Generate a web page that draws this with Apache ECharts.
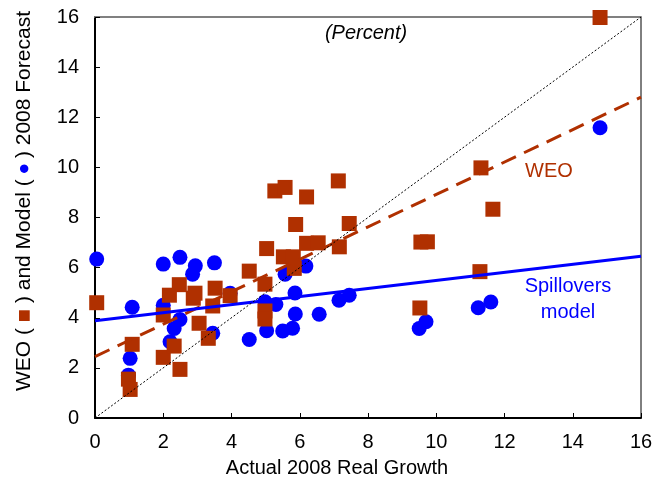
<!DOCTYPE html>
<html>
<head>
<meta charset="utf-8">
<script src="https://cdn.jsdelivr.net/npm/echarts@6/dist/echarts.min.js"></script>
<style>
html,body{margin:0;padding:0;background:#fff;}
#chart{width:661px;height:482px;}
</style>
</head>
<body>
<div id="chart"></div>
<script>
// ---- data ----
var weoActual   = [0.05,1.09,2.00,0.98,1.03,2.49,2.32,2.00,2.18,2.47,2.88,2.93,3.05,3.32,3.45,3.52,3.96,4.52,4.98,5.03,5.27,5.57,6.20,7.13,5.88,7.45,5.52,5.81,5.84,6.20,6.54,7.16,4.98,4.98,11.31,11.66,9.55,9.74,11.28,9.52,14.80];
var weoForecast = [4.60,2.94,2.42,1.55,1.14,1.94,2.87,4.11,4.90,5.32,4.78,4.98,3.78,3.18,4.47,5.18,4.88,5.86,5.34,6.76,9.06,9.20,8.82,9.46,7.72,7.76,6.43,6.43,5.97,6.97,6.99,6.83,4.27,3.95,9.98,8.33,7.02,7.03,5.84,4.39,15.98];
var modelActual   = [0.05,1.09,1.03,0.98,2.00,2.49,2.94,2.86,3.50,2.00,2.49,2.32,2.20,3.45,3.96,4.52,5.03,5.50,5.79,5.87,6.57,5.30,4.98,5.86,7.15,7.45,5.57,6.18,9.70,9.50,11.23,11.60,14.80];
var modelForecast = [6.34,4.42,2.38,1.71,6.14,6.41,6.07,5.74,6.19,4.50,3.93,3.57,3.04,3.38,4.98,3.13,3.48,3.47,3.58,4.15,4.14,4.53,4.64,4.99,4.70,4.90,5.74,6.06,3.84,3.57,4.40,4.63,11.58];
var weoFitX = [0, 16];
var weoFitY = [2.45, 12.8];
var modelFitX = [0, 16];
var modelFitY = [3.88, 6.45];
var diagX = [0, 16];
var diagY = [0, 16];
var axisTicks = [0, 2, 4, 6, 8, 10, 12, 14, 16];

function zip(a, b) { return a.map(function (v, i) { return [v, b[i]]; }); }

var BROWN = '#B03000';
var BLUE = '#0000FF';
var FONT = '"Liberation Sans", Arial, sans-serif';

var chart = echarts.init(document.getElementById('chart'), null, {renderer: 'canvas'});
var option = {
  backgroundColor: '#fff',
  animation: false,
  textStyle: {fontFamily: FONT},
  grid: {left: 95, right: 20, top: 17, bottom: 64, show: true, borderColor: '#000', borderWidth: 1},
  xAxis: [{
    type: 'value', min: axisTicks[0], max: axisTicks[axisTicks.length - 1], interval: 2,
    axisLine: {show: true, onZero: false, lineStyle: {color: '#000', width: 2}},
    axisTick: {show: true, inside: true, length: 5, lineStyle: {color: '#000', width: 1}},
    axisLabel: {color: '#000', fontSize: 20, margin: 14, fontFamily: FONT},
    splitLine: {show: false}
  }, {
    type: 'value', position: 'top', min: 0, max: 16,
    axisLine: {show: true, onZero: false, lineStyle: {color: '#808080', width: 2}},
    axisTick: {show: false}, axisLabel: {show: false}, splitLine: {show: false}
  }],
  yAxis: {
    type: 'value', min: axisTicks[0], max: axisTicks[axisTicks.length - 1], interval: 2,
    axisLine: {show: true, onZero: false, lineStyle: {color: '#000', width: 2}},
    axisTick: {show: true, inside: true, length: 5, lineStyle: {color: '#000', width: 1}},
    axisLabel: {color: '#000', fontSize: 20, margin: 16, fontFamily: FONT},
    splitLine: {show: false}
  },
  series: [
    {
      name: 'Model', type: 'scatter', symbol: 'circle', symbolSize: 15, z: 2,
      itemStyle: {color: BLUE, opacity: 1},
      data: zip(modelActual, modelForecast)
    },
    {
      name: 'WEO', type: 'scatter', symbol: 'rect', symbolSize: 15, z: 3,
      itemStyle: {color: BROWN, opacity: 1},
      data: zip(weoActual, weoForecast)
    },
    {
      name: 'WEO fit', type: 'line', z: 4, symbol: 'none', silent: true,
      lineStyle: {color: BROWN, width: 3, type: [16, 9]},
      data: zip(weoFitX, weoFitY)
    },
    {
      name: 'Model fit', type: 'line', z: 4, symbol: 'none', silent: true,
      lineStyle: {color: BLUE, width: 3},
      data: zip(modelFitX, modelFitY)
    },
    {
      name: '45 degree', type: 'line', z: 5, symbol: 'none', silent: true,
      lineStyle: {color: '#000', width: 1, type: [2, 2]},
      data: zip(diagX, diagY)
    }
  ],
  graphic: [
    {type: 'text', x: 366, y: 33, z: 10, style: {text: '(Percent)', font: 'italic 20px ' + FONT, fill: '#000', textAlign: 'center', textVerticalAlign: 'middle'}},
    {type: 'text', x: 549, y: 171, z: 10, style: {text: 'WEO', font: '20px ' + FONT, fill: BROWN, textAlign: 'center', textVerticalAlign: 'middle'}},
    {type: 'text', x: 568, y: 286, z: 10, style: {text: 'Spillovers', font: '20px ' + FONT, fill: BLUE, textAlign: 'center', textVerticalAlign: 'middle'}},
    {type: 'text', x: 568, y: 312, z: 10, style: {text: 'model', font: '20px ' + FONT, fill: BLUE, textAlign: 'center', textVerticalAlign: 'middle'}},
    {type: 'text', x: 337, y: 468, z: 10, style: {text: 'Actual 2008 Real Growth', font: '20px ' + FONT, fill: '#000', textAlign: 'center', textVerticalAlign: 'middle'}},
    {type: 'text', x: 24, y: 201, rotation: Math.PI / 2, z: 10, style: {
      text: 'WEO ( {sq|■} ) and Model ( {dot|●} ) 2008 Forecast',
      fontSize: 21, fontFamily: FONT, fill: '#000', textAlign: 'center', textVerticalAlign: 'middle',
      rich: {
        sq: {fontSize: 14, fill: BROWN, color: BROWN, fontFamily: 'DejaVu Sans'},
        dot: {fontSize: 11, fill: BLUE, color: BLUE, fontFamily: 'DejaVu Sans'}
      }
    }}
  ]
};
chart.setOption(option);
</script>
</body>
</html>
